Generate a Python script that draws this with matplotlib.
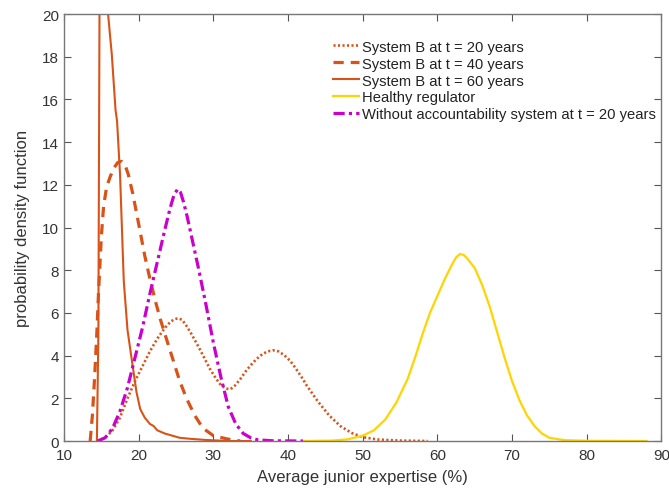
import matplotlib
matplotlib.use("Agg")
import matplotlib.pyplot as plt

plt.rcParams['font.family'] = ['Liberation Sans', 'DejaVu Sans']

# System B at t = 20 years (dotted)
b20_x = [14.5, 15.5, 16.5, 17.5, 18.5, 19.5, 20.5, 21.5, 22.5, 23.5, 24.3, 24.9, 25.3, 25.8, 26.3, 27.0, 27.8,
         28.7, 29.5, 30.3, 31.0, 31.7, 32.3, 32.9, 33.6, 34.3, 35.0, 35.8, 36.6, 37.3, 38.0, 38.7, 39.5, 40.3,
         41.0, 41.8, 42.5, 43.3, 44.0, 45.5, 47.0, 48.5, 50.0, 52.0, 55.0, 58.7]
b20_y = [0.0, 0.15, 0.5, 1.1, 2.0, 2.8, 3.5, 4.2, 4.8, 5.3, 5.6, 5.72, 5.75, 5.68, 5.45, 5.05, 4.55,
         3.95, 3.4, 2.95, 2.62, 2.45, 2.43, 2.6, 2.9, 3.25, 3.55, 3.85, 4.08, 4.2, 4.25, 4.2, 4.02, 3.75,
         3.42, 3.0, 2.6, 2.2, 1.85, 1.2, 0.7, 0.38, 0.18, 0.07, 0.02, 0.0]

# System B at t = 40 years (dashed)
b40_x = [13.5, 13.8, 14.1, 14.4, 14.6, 14.8, 15.0, 15.3, 15.7, 16.2, 16.7, 17.2, 17.7, 18.2, 18.6, 19.2, 19.7,
         20.2, 20.8, 21.5, 22.2, 22.9, 23.7, 24.6, 25.5, 26.4, 27.5, 28.6, 30.0, 31.8, 33.6]
b40_y = [0.0, 1.2, 3.0, 5.1, 6.8, 8.2, 9.6, 11.0, 11.9, 12.4, 12.8, 13.05, 13.1, 12.9, 12.5, 11.6, 10.7,
         9.8, 8.7, 7.6, 6.6, 5.7, 4.8, 3.8, 2.8, 2.0, 1.2, 0.6, 0.25, 0.1, 0.0]

# System B at t = 60 years (solid)
b60_x = [14.4, 14.6, 14.75, 15.2, 15.9, 16.4, 16.9, 17.1, 17.5, 18.0, 18.5, 19.2, 19.7, 20.2, 20.8, 21.5, 22.0,
         22.5, 23.5, 24.5, 25.5, 27.0, 29.0, 32.0, 35.0]
b60_y = [0.0, 5.0, 20.0, 28.0, 20.0, 18.1, 15.5, 15.0, 12.5, 7.5, 5.2, 3.5, 2.3, 1.5, 1.1, 0.8, 0.7,
         0.5, 0.35, 0.25, 0.15, 0.1, 0.05, 0.0, 0.0]

# Healthy regulator
hr_x = [42, 46, 48, 50, 51.5, 53, 54.5, 56, 57, 58, 59, 60, 61, 62, 62.5, 63, 63.5, 64, 65, 66, 67, 68, 69, 70,
        71, 72, 73, 74, 75, 77, 80, 88]
hr_y = [0.0, 0.02, 0.08, 0.25, 0.5, 1.0, 1.8, 2.9, 3.9, 5.0, 6.0, 6.8, 7.6, 8.3, 8.6, 8.76, 8.72, 8.55, 8.1,
        7.3, 6.3, 5.1, 3.9, 2.8, 1.9, 1.2, 0.7, 0.35, 0.15, 0.04, 0.01, 0.0]

# Without accountability system at t = 20 years
wa_x = [14.5, 15.5, 16.5, 17.5, 18.5, 19.5, 20.5, 21.5, 22.5, 23.5, 24.2, 24.7, 25.2, 25.6, 26.0, 26.5, 27.0,
        28.0, 29.0, 30.0, 31.0, 32.0, 33.0, 34.0, 35.0, 36.0, 38.0, 42.0]
wa_y = [0.0, 0.15, 0.6, 1.4, 2.5, 3.9, 5.3, 6.9, 8.4, 9.9, 10.9, 11.5, 11.8, 11.65, 11.2, 10.5, 9.7,
        8.1, 6.4, 4.6, 3.0, 1.6, 0.8, 0.35, 0.15, 0.05, 0.01, 0.0]

labels = ["System B at t = 20 years", "System B at t = 40 years", "System B at t = 60 years",
          "Healthy regulator", "Without accountability system at t = 20 years"]
x_ticks = [10, 20, 30, 40, 50, 60, 70, 80, 90]
y_ticks = [0, 2, 4, 6, 8, 10, 12, 14, 16, 18, 20]

orange = '#D95319'
fig = plt.figure(figsize=(6.69, 4.89), dpi=100)
ax = fig.add_axes([0.0957, 0.0961, 0.893, 0.873])

ax.plot(b20_x, b20_y, color=orange, ls=(0, (0.8, 0.9)), lw=1.9, label=labels[0])
ax.plot(b40_x, b40_y, color=orange, ls=(0, (3.2, 2.2)), lw=2.3, label=labels[1])
ax.plot(b60_x, b60_y, color=orange, ls='-', lw=1.5, label=labels[2])
ax.plot(hr_x, hr_y, color='#FFD400', ls='-', lw=1.6, label=labels[3])
ax.plot(wa_x, wa_y, color='#CC00CC', ls=(0, (3.5, 1.3, 1, 1.3)), lw=2.3, label=labels[4])

ax.set_xlim(10, 90)
ax.set_ylim(0, 20)
ax.set_xticks(x_ticks)
ax.set_yticks(y_ticks)
ax.tick_params(direction='in', top=True, right=True, length=5, labelsize=11, colors='#555555',
               labelcolor='#333333')
ax.tick_params(axis='x', pad=5)
for s in ax.spines.values():
    s.set_color('#777777')
    s.set_linewidth(1.0)
ax.set_xlabel('Average junior expertise (%)', fontsize=12, color='#333333', labelpad=5)
ax.set_ylabel('probability density function', fontsize=12, color='#333333', labelpad=9)

leg = ax.legend(loc='upper left', bbox_to_anchor=(0.44, 0.954), frameon=False, fontsize=10.6,
                handlelength=1.8, handletextpad=0.2, labelspacing=0.2, borderaxespad=0)
for t in leg.get_texts():
    t.set_color('#222222')

fig.savefig('out.png', dpi=100)
